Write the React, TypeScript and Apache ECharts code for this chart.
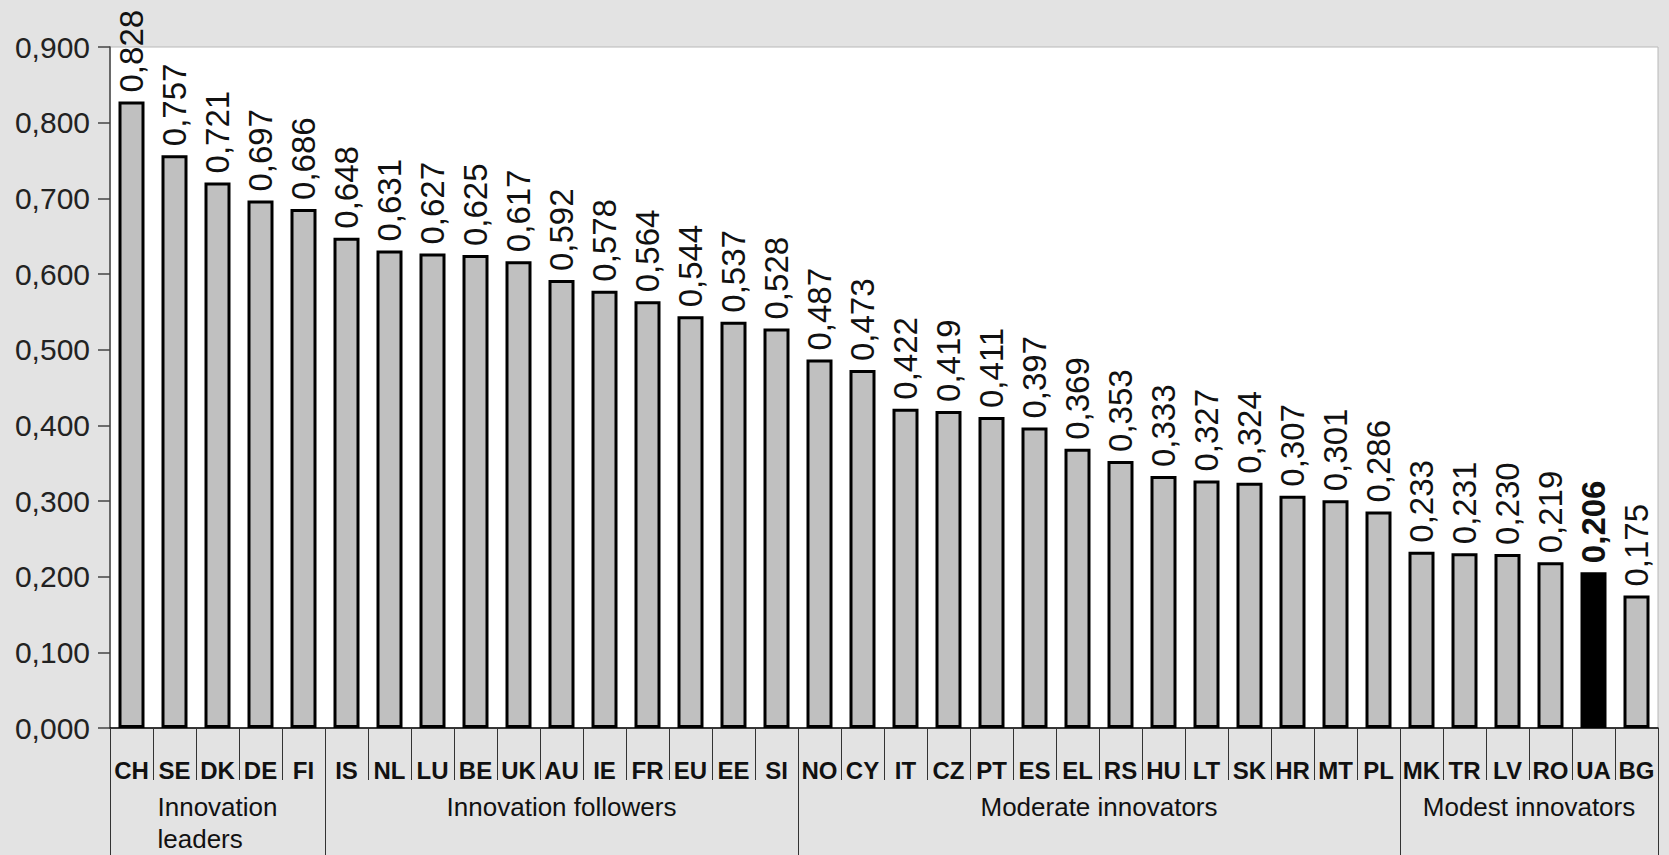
import React, { useEffect, useRef } from "react";
import * as echarts from "echarts";

const countries = ["CH","SE","DK","DE","FI","IS","NL","LU","BE","UK","AU","IE","FR","EU","EE","SI","NO","CY","IT","CZ","PT","ES","EL","RS","HU","LT","SK","HR","MT","PL","MK","TR","LV","RO","UA","BG"];
const values = [0.828,0.757,0.721,0.697,0.686,0.648,0.631,0.627,0.625,0.617,0.592,0.578,0.564,0.544,0.537,0.528,0.487,0.473,0.422,0.419,0.411,0.397,0.369,0.353,0.333,0.327,0.324,0.307,0.301,0.286,0.233,0.231,0.230,0.219,0.206,0.175];
const groupNames = ["Innovation\nleaders", "Innovation followers", "Moderate innovators", "Modest innovators"];
const groupSizes = [5, 11, 14, 6];
const highlighted = "UA";
const yMin = 0;
const yMax = 0.9;
const yStep = 0.1;

const FONT = "'Liberation Sans', Arial, sans-serif";
const fmt = (v: number) => v.toFixed(3).replace(".", ",");

function measure(text: string, font: string) {
  const c = document.createElement("canvas").getContext("2d")!;
  c.font = font;
  return c.measureText(text).width;
}

export default function App() {
  const ref = useRef<HTMLDivElement>(null);
  useEffect(() => {
    const chart = echarts.init(ref.current!, undefined, { renderer: "svg" });
    const option: any = {
      animation: false,
      backgroundColor: "#e3e3e3",
      textStyle: { fontFamily: FONT },
      grid: {
        left: 110, right: 11, top: 47, bottom: 127,
        show: true, backgroundColor: "#ffffff", borderColor: "#b8b8b8", borderWidth: 1,
        outerBoundsMode: "none", containLabel: false,
      },
      xAxis: {
        type: "category",
        data: countries,
        axisLine: { show: true, lineStyle: { color: "#000", width: 1.5 } },
        axisTick: { show: true, interval: 0, length: 52, lineStyle: { color: "#333", width: 1 } },
        axisLabel: { interval: 0, fontSize: 24, fontWeight: "bold", color: "#111", margin: 30, fontFamily: FONT },
      },
      yAxis: {
        type: "value",
        min: yMin, max: yMax, interval: yStep,
        splitLine: { show: false },
        axisLine: { show: true, lineStyle: { color: "#444", width: 1.5 } },
        axisTick: { show: true, length: 12, lineStyle: { color: "#444", width: 1.5 } },
        axisLabel: { fontSize: 30, color: "#222", margin: 20, formatter: (v: number) => fmt(v), fontFamily: FONT },
      },
      series: [{
        type: "bar",
        barWidth: 26,
        data: values.map((v, i) => ({
          value: v,
          itemStyle: { color: countries[i] === highlighted ? "#000" : "#c0c0c0" },
          label: countries[i] === highlighted ? { fontWeight: "bold" } : undefined,
        })),
        itemStyle: { borderColor: "#000", borderWidth: 3 },
        label: {
          show: true, position: "top", rotate: 90, distance: 9,
          align: "left", verticalAlign: "middle",
          fontSize: 33, color: "#111", fontFamily: FONT,
          formatter: (p: any) => fmt(p.value),
        },
      }],
    };
    chart.setOption(option);

    const px = (i: number) => chart.convertToPixel({ xAxisIndex: 0 }, i) as number;
    const band = px(1) - px(0);
    const edge = (i: number) => px(0) - band / 2 + i * band;
    const y0 = chart.convertToPixel({ yAxisIndex: 0 }, 0) as number;
    const H = 855;
    const graphics: any[] = [];
    let start = 0;
    const bounds = [0];
    groupSizes.forEach((s) => { start += s; bounds.push(start); });
    bounds.forEach((b) => {
      const x = Math.round(edge(b)) + 0.5;
      graphics.push({ type: "line", shape: { x1: x, y1: y0, x2: x, y2: H }, style: { stroke: "#333", lineWidth: 1 } });
    });
    groupNames.forEach((name, gi) => {
      const cx = (edge(bounds[gi]) + edge(bounds[gi + 1])) / 2;
      const lines = name.split("\n");
      const w = Math.max(...lines.map((l) => measure(l, `26px ${FONT}`)));
      graphics.push({
        type: "text",
        x: cx - w / 2,
        y: y0 + 63,
        style: { text: name, font: `26px ${FONT}`, fill: "#111", align: "left", verticalAlign: "top", lineHeight: 32 },
      });
    });
    chart.setOption({ graphic: graphics });

    return () => chart.dispose();
  }, []);
  return <div ref={ref} style={{ position: "absolute", left: 0, top: 0, width: 1669, height: 855 }} />;
}
